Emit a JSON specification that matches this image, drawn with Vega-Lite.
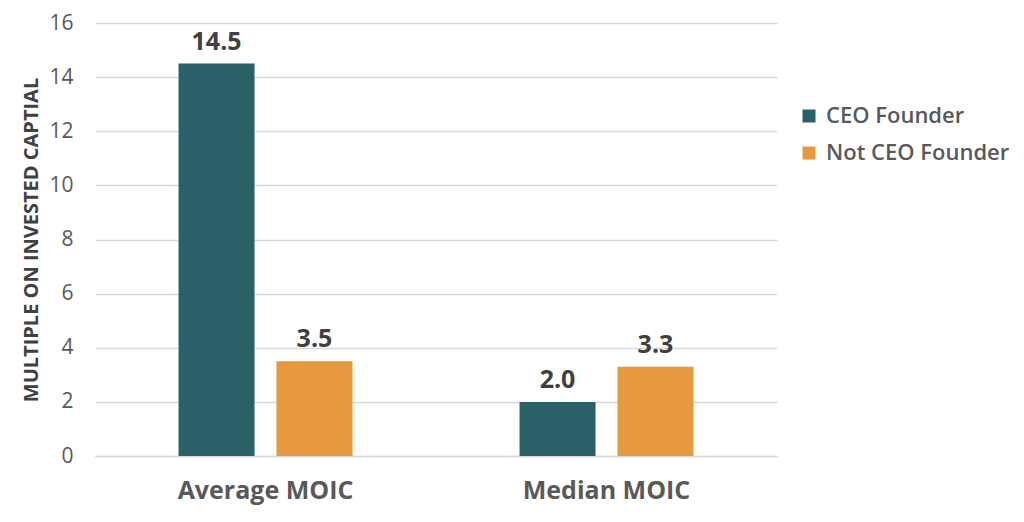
{
  "$schema": "https://vega.github.io/schema/vega-lite/v6.json",
  "width": 682,
  "height": 433,
  "autosize": {"type": "none"},
  "padding": {"left": 95, "top": 23, "right": 247, "bottom": 66},
  "background": "white",
  "config": {
    "font": "Open Sans",
    "view": {"stroke": null}
  },
  "data": {
    "values": [
      {"metric": "Average MOIC", "group": "CEO Founder", "value": 14.5},
      {"metric": "Average MOIC", "group": "Not CEO Founder", "value": 3.5},
      {"metric": "Median MOIC", "group": "CEO Founder", "value": 2.0},
      {"metric": "Median MOIC", "group": "Not CEO Founder", "value": 3.3}
    ]
  },
  "encoding": {
    "x": {
      "field": "metric",
      "type": "nominal",
      "title": null,
      "scale": {"paddingInner": 0.49, "paddingOuter": 0.245},
      "axis": {
        "labelAngle": 0,
        "labelFontSize": 25,
        "labelFontWeight": "bold",
        "labelColor": "#595959",
        "labelPadding": 22,
        "ticks": false,
        "domainColor": "#d9d9d9",
        "domainWidth": 1.5
      }
    },
    "xOffset": {
      "field": "group",
      "type": "nominal",
      "scale": {"paddingInner": 0.224, "paddingOuter": 0}
    },
    "y": {
      "field": "value",
      "type": "quantitative",
      "title": "MULTIPLE ON INVESTED CAPTIAL",
      "scale": {"domain": [0, 16]},
      "axis": {
        "values": [0, 2, 4, 6, 8, 10, 12, 14, 16],
        "labelFontSize": 21,
        "labelColor": "#595959",
        "labelPadding": 22,
        "ticks": false,
        "domain": false,
        "gridColor": "#d9d9d9",
        "gridWidth": 1.5,
        "titleFontSize": 20,
        "titleFontWeight": "bold",
        "titleColor": "#404040",
        "titlePadding": 7
      }
    }
  },
  "layer": [
    {
      "mark": {"type": "bar"},
      "encoding": {
        "color": {
          "field": "group",
          "type": "nominal",
          "title": null,
          "scale": {
            "domain": ["CEO Founder", "Not CEO Founder"],
            "range": ["#2a6068", "#e8983e"]
          },
          "legend": {
            "orient": "none",
            "legendX": 703,
            "legendY": 82,
            "symbolType": "square",
            "symbolSize": 169,
            "symbolStrokeWidth": 0,
            "labelFontSize": 22,
            "labelColor": "#595959",
            "labelFontWeight": 600,
            "labelLimit": 300,
            "rowPadding": 15,
            "labelOffset": 6
          }
        }
      }
    },
    {
      "mark": {
        "type": "text",
        "baseline": "alphabetic",
        "dy": -14,
        "fontSize": 25,
        "fontWeight": "bold",
        "color": "#404040"
      },
      "encoding": {
        "text": {"field": "value", "type": "quantitative", "format": ".1f"}
      }
    }
  ]
}
